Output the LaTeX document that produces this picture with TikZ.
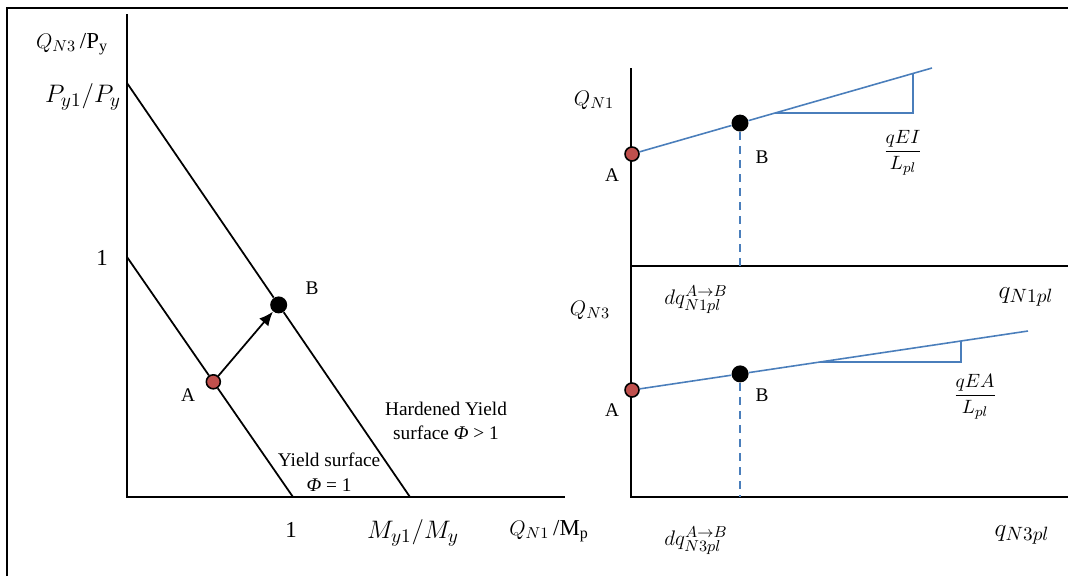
\documentclass[tikz,border=0pt]{standalone}
\usepackage{fontspec}
\setmainfont{Liberation Serif}
\usetikzlibrary{arrows.meta,calc}
\definecolor{lineblue}{HTML}{4A7EBB}
\definecolor{dotred}{HTML}{C0504D}

\begin{document}
\begin{tikzpicture}[x=0.02cm,y=-0.02cm,
  font=\fontsize{11}{14}\selectfont,
  axis/.style={line width=1.1pt},
  surf/.style={line width=1pt},
  slope/.style={draw=lineblue,line width=0.9pt},
  guide/.style={draw=lineblue,line width=0.9pt,dash pattern=on 4.5pt off 3.5pt},
  startpt/.style={circle,draw=black,line width=0.9pt,fill=dotred,
                  inner sep=0pt,minimum size=0.28cm},
  endpt/.style={circle,fill=black,inner sep=0pt,minimum size=0.34cm},
  mathlbl/.style={font=\fontsize{15}{17}\selectfont},
  ratiolbl/.style={font=\fontsize{13}{15}\selectfont},
  arrow/.style={-{Latex[length=2.8mm,width=2.4mm]},line width=1pt}
]
\useasboundingbox (0,0) rectangle (1068,576);
% frame
\draw[axis] (7,576) -- (7,8) -- (1068,8);

% yield surfaces
\coordinate (yaxis) at (127,14);
\coordinate (origin) at (127,497);
\coordinate (xaxis) at (565,497);
\draw[axis] (yaxis) -- (origin) -- (xaxis);
\coordinate (hardY) at (127,83);
\coordinate (hardX) at (410,497);
\coordinate (yieldY) at (127,257);
\coordinate (yieldX) at (293,497);
\node[startpt] (ptA) at ($(yieldY)!0.52!(yieldX)$) {};
\node[endpt] (ptB) at ($(hardY)!0.536!(hardX)$) {};
\draw[surf] (yieldY) -- (ptA) -- (yieldX);
\draw[surf] (hardY) -- (ptB) -- (hardX);
\draw[arrow] (ptA) -- (ptB);

\node (labA) at (188,395) {A};
\node (labB) at (312,288) {B};
\node[ratiolbl] (qn3py) at (72,44) {$Q_{N3}$\,/P\textsubscript{y}};
\node[mathlbl] (py1) at (83,97) {$P_{y1}/P_y$};
\node[ratiolbl] (oneY) at (102,258) {1};
\node[ratiolbl] (oneX) at (291,530) {1};
\node[mathlbl] (my1) at (413,533) {$M_{y1}/M_y$};
\node[ratiolbl] (qn1mp) at (549,531) {$Q_{N1}$\,/M\textsubscript{p}};
\node[align=center] (hardLab) at (446,421)
  {Hardened Yield\\surface \textit{Φ} > 1};
\node[align=center] (yieldLab) at (329,472)
  {Yield surface\\\textit{Φ} = 1};

% bending and axial increments
\coordinate (rTop) at (631,68);
\coordinate (rMid) at (631,266);
\coordinate (rBot) at (631,497);
\coordinate (rMidEnd) at (1068,266);
\coordinate (rBotEnd) at (1068,497);
\draw[axis] (rTop) -- (rBot) -- (rBotEnd);
\draw[axis] (rMid) -- (rMidEnd);

\coordinate (bendA) at (632,154);
\coordinate (bendEnd) at (932,68);
\node[startpt] (bendPtA) at (bendA) {};
\node[endpt] (bendPtB) at ($(bendA)!0.36!(bendEnd)$) {};
\draw[slope] (bendPtA) -- (bendPtB) -- (bendEnd);
\coordinate (bendFoot) at ($(bendA)!0.477!(bendEnd)$);
\coordinate (bendTip) at ($(bendA)!0.937!(bendEnd)$);
\draw[slope] (bendFoot) -- (bendTip |- bendFoot) -- (bendTip);
\coordinate (bendBase) at (bendPtB |- rMid);
\draw[guide] (bendPtB) -- (bendBase);

\coordinate (axA) at (632,390);
\coordinate (axEnd) at (1028,331);
\node[startpt] (axPtA) at (axA) {};
\node[endpt] (axPtB) at ($(axA)!0.273!(axEnd)$) {};
\draw[slope] (axPtA) -- (axPtB) -- (axEnd);
\coordinate (axFoot) at ($(axA)!0.475!(axEnd)$);
\coordinate (axTip) at ($(axA)!0.831!(axEnd)$);
\draw[slope] (axFoot) -- (axTip |- axFoot) -- (axTip);
\coordinate (axBase) at (axPtB |- rBot);
\draw[guide] (axPtB) -- (axBase);

\node (bendLabA) at (612,175) {A};
\node (bendLabB) at (762,157) {B};
\node (axLabA) at (612,410) {A};
\node (axLabB) at (762,395) {B};
\node[ratiolbl] (qn1) at (594,100) {$Q_{N1}$};
\node[ratiolbl] (qn3) at (590,310) {$Q_{N3}$};
\node (qei) at (903,153) {$\displaystyle\frac{qEI}{L_{pl}}$};
\node (qea) at (975,397) {$\displaystyle\frac{qEA}{L_{pl}}$};
\node[ratiolbl] (dqn1) at (696,300) {$dq^{A\to B}_{N1pl}$};
\node[ratiolbl] (dqn3) at (696,541) {$dq^{A\to B}_{N3pl}$};
\node[mathlbl] (qn1pl) at (1026,297) {$q_{N1pl}$};
\node[mathlbl] (qn3pl) at (1022,535) {$q_{N3pl}$};
\end{tikzpicture}
\end{document}
